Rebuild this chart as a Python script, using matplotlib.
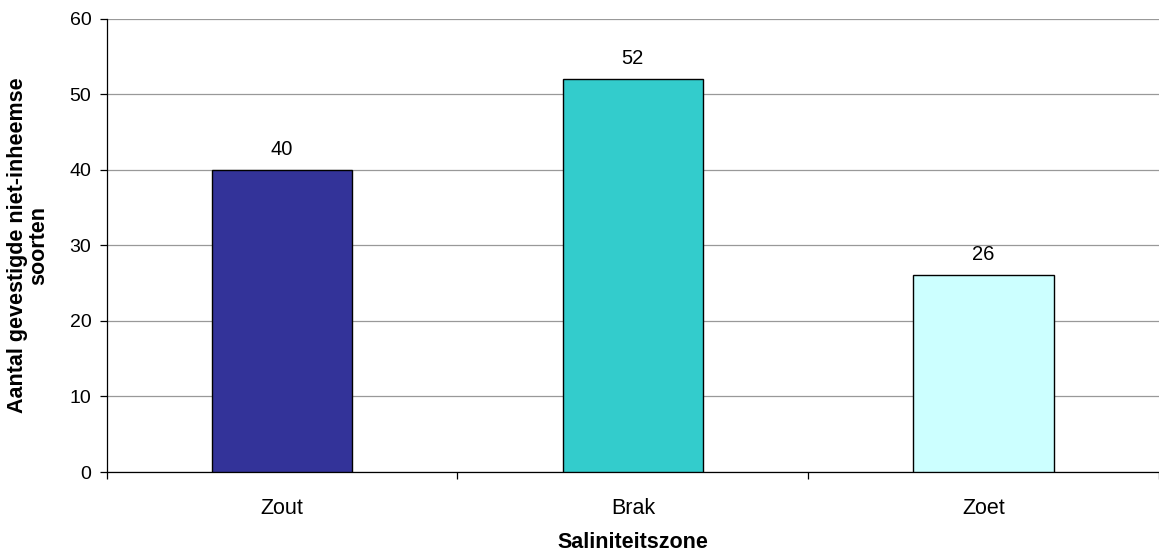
import matplotlib
matplotlib.use('Agg')
import matplotlib.pyplot as plt

zones = ['Zout', 'Brak', 'Zoet']
soorten = [40, 52, 26]
kleuren = ['#333399', '#33CCCC', '#CCFFFF']

plt.rcParams['font.family'] = ['Liberation Sans', 'DejaVu Sans']

fig = plt.figure(figsize=(11.59, 5.54), dpi=100)
ax = fig.add_axes([0.092, 0.148, 0.908, 0.8186])

x = range(len(zones))
bars = ax.bar(x, soorten, width=0.4, color=kleuren, edgecolor='black',
              linewidth=1.0, zorder=3)

for b, v in zip(bars, soorten):
    ax.annotate('%d' % v, (b.get_x() + b.get_width() / 2, v),
                xytext=(0, 8), textcoords='offset points',
                ha='center', va='bottom', fontsize=14.5)

ax.set_xlim(-0.5, len(zones) - 0.5)
ax.set_ylim(0, 60)
ax.set_yticks(range(0, 61, 10))
ax.yaxis.grid(True, color='#999999', linewidth=0.9, zorder=0)
ax.set_axisbelow(True)

ax.set_xticks(list(x))
ax.set_xticklabels(zones)
ax.set_xticks([i - 0.5 for i in range(len(zones) + 1)], minor=True)
ax.tick_params(axis='x', which='major', length=0, pad=19, labelsize=15.5)
ax.tick_params(axis='x', which='minor', length=5, width=0.9, direction='out')
ax.tick_params(axis='y', length=5, width=0.9, direction='out', pad=6,
               labelsize=14)

for s in ['top', 'right']:
    ax.spines[s].set_visible(False)
for s in ['left', 'bottom']:
    ax.spines[s].set_linewidth(0.9)

ax.set_xlabel('Saliniteitszone', fontsize=15.5, fontweight='bold', labelpad=9)
ax.set_ylabel('Aantal gevestigde niet-inheemse\nsoorten', fontsize=15.5,
              fontweight='bold', linespacing=1.0)
ax.yaxis.set_label_coords(-0.055, 0.5)

fig.savefig('out.png', dpi=100)
